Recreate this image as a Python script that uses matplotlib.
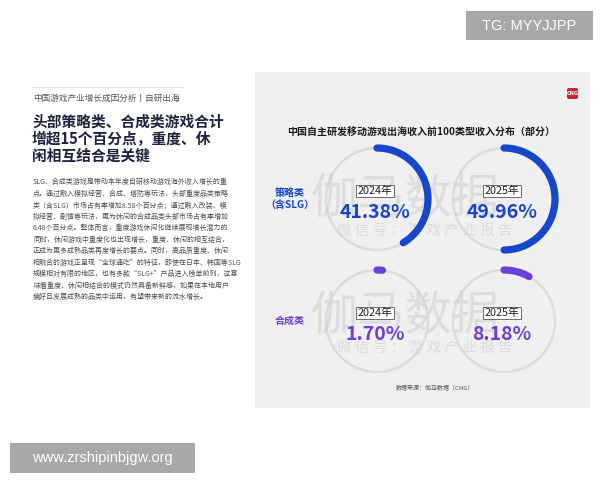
import numpy as np
import matplotlib
matplotlib.use("Agg")
import matplotlib.pyplot as plt
from matplotlib.patches import FancyBboxPatch, Rectangle

plt.rcParams['font.family'] = ['Noto Sans CJK SC', 'DejaVu Sans']

# data
categories = ['策略类\n（含SLG）', '合成类']
years = ['2024年', '2025年']
share_2024 = [41.38, 1.70]
share_2025 = [49.96, 8.18]
cat_colors = ['#1646cc', '#6c3fd6']

chart_title = '中国自主研发移动游戏出海收入前100类型收入分布（部分）'
source = '数据来源：伽马数据（CNG）'
kicker = '中国游戏产业增长成因分析丨自研出海'
headline = ['头部策略类、合成类游戏合计', '增超15个百分点，重度、休', '闲相互结合是关键']
body = [
    'SLG、合成类游戏是带动本年度自研移动游戏海外收入增长的重',
    '点。通过融入模拟经营、合成、塔防等玩法，头部重度品类策略',
    '类（含SLG）市场占有率增加8.58个百分点；通过融入改装、模',
    '拟经营、剧情等玩法，更为休闲的合成品类头部市场占有率增加',
    '6.48个百分点。整体而言，重度游戏休闲化继续展现增长潜力的',
    '同时，休闲游戏中重度化也出现增长，重度、休闲的相互结合，',
    '正成为更多成熟品类再度增长的要点。同时，高品质重度、休闲',
    '相融合的游戏正呈现“全球通吃”的特征，即使在日本、韩国等SLG',
    '规模相对有限的地区，也有多款“SLG+”产品进入榜单前列，这意',
    '味着重度、休闲相结合的模式仍然具备新鲜感，如果在本地用户',
    '偏好且发展成熟的品类中运用，有望带来新的流水增长。',
]

fig = plt.figure(figsize=(6, 4.8), dpi=100)
ax = fig.add_axes([0, 0, 1, 1])
ax.set_xlim(0, 600)
ax.set_ylim(480, 0)
ax.axis('off')

# left text block
ax.plot([33, 182], [87, 87], color='#e2e2e2', lw=0.8)
ax.text(33, 98, kicker, fontsize=6.2, color='#555555', va='center')
for i, line in enumerate(headline):
    ax.text(32, 122 + i * 17, line, fontsize=10.6, fontweight='bold',
            color='#1c2340', va='center')
for i, line in enumerate(body):
    ax.text(33, 182 + i * 11.5, line, fontsize=5.0, color='#4f4f4f', va='center')

# right panel
ax.add_patch(Rectangle((255, 72), 335, 336, facecolor='#f0f0f1', edgecolor='none'))
ax.add_patch(FancyBboxPatch((567, 88), 11, 11, boxstyle='round,pad=0,rounding_size=2',
                            facecolor='#c9252c', edgecolor='none'))
ax.text(572.5, 93.5, 'CNG', fontsize=3.6, color='white', fontweight='bold',
        ha='center', va='center', family='DejaVu Sans')
ax.text(421, 133, chart_title, fontsize=7.2, fontweight='bold', color='#1a1a1a',
        ha='center', va='center')
ax.text(435, 388, source, fontsize=4.3, color='#555555', ha='center', va='center')

# watermark
for wy in (200, 317):
    ax.text(405, wy, '伽马数据', fontsize=34, color='#cfcfcf', alpha=0.55,
            ha='center', va='center')
    ax.text(425, wy + 31, '微 信 号 ： 游 戏 产 业 报 告', fontsize=10.5,
            color='#d0d0d0', alpha=0.6, ha='center', va='center')

# rings
cx = [377, 504]
cy = [199, 321]
r = 51
t = np.linspace(0, 2 * np.pi, 300)
for row in range(len(categories)):
    col = cat_colors[row]
    ax.text(290, cy[row], categories[row], fontsize=7.2, fontweight='bold',
            color=col, ha='center', va='center', linespacing=1.3)
    for k, val in enumerate([share_2024[row], share_2025[row]]):
        x0, y0 = cx[k], cy[row]
        ax.plot(x0 + r * np.sin(t), y0 - r * np.cos(t), color='#dcdcdc', lw=1.8,
                zorder=2)
        a = np.linspace(0, 2 * np.pi * val / 100, 200)
        ax.plot(x0 + r * np.sin(a), y0 - r * np.cos(a), color=col, lw=5.2,
                solid_capstyle='round', zorder=3)
        ax.text(x0 - 2, y0 - 8, years[k], fontsize=7.8, color='#222222',
                ha='center', va='center', zorder=4,
                bbox=dict(boxstyle='square,pad=0.12', facecolor='white',
                          edgecolor='#555555', lw=0.6))
        ax.text(x0 - 2, y0 + 13, f'{val:.2f}%', fontsize=14, fontweight='bold',
                color=col, ha='center', va='center', zorder=4)

# corner tags
ax.add_patch(Rectangle((466, 11), 127, 29, facecolor='#a8a8a8', edgecolor='none'))
ax.text(529.5, 25.5, 'TG: MYYJJPP', fontsize=10.5, color='white', ha='center',
        va='center', family='Liberation Sans')
ax.add_patch(Rectangle((10, 443), 185, 30, facecolor='#a8a8a8', edgecolor='none'))
ax.text(102.5, 458, 'www.zrshipinbjgw.org', fontsize=10.5, color='white',
        ha='center', va='center', family='Liberation Sans')

fig.savefig('out.png', dpi=100)
